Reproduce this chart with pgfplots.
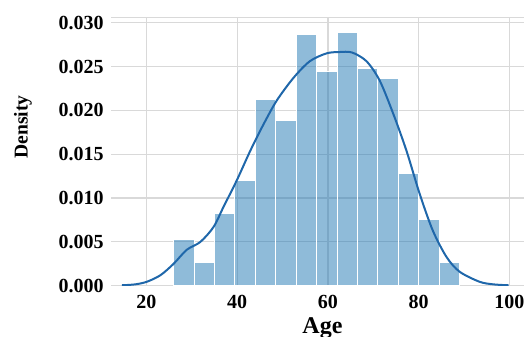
\documentclass[border=0pt]{standalone}
\usepackage{pgfplots}
\pgfplotsset{compat=1.18}
\usepackage{fontspec}
\setmainfont{Liberation Serif}
\definecolor{barblue}{HTML}{1F77B4}
\definecolor{kdeblue}{HTML}{1F67AA}
\definecolor{gridgray}{HTML}{D9D9D9}
\begin{document}
\begin{tikzpicture}
\begin{axis}[
  scale only axis,
  width=206.5pt, height=134.1pt,
  xmin=12.2, xmax=103.2,
  ymin=0, ymax=0.03059,
  xtick={20,40,60,80,100},
  ytick={0,0.005,0.010,0.015,0.020,0.025,0.030},
  scaled y ticks=false,
  major tick length=0pt,
  /pgf/number format/assume math mode=true,
  yticklabel style={/pgf/number format/fixed, /pgf/number format/fixed zerofill, /pgf/number format/precision=3, anchor=east, inner sep=0pt, xshift=-3.5pt},
  ticklabel style={font=\fontsize{10}{12}\selectfont\bfseries},
  xticklabel style={anchor=north, inner sep=0pt, yshift=-4.5pt},
  grid=major,
  major grid style={gridgray, line width=0.6pt},
  separate axis lines,
  x axis line style={draw=gridgray, line width=0.6pt},
  y axis line style={draw=none},
  axis on top=false,
  xlabel={Age},
  ylabel={Density},
  xlabel style={font=\fontsize{12}{14}\selectfont\bfseries, at={(axis description cs:0.512,0)}, anchor=north, inner sep=0pt, yshift=-15.7pt},
  ylabel style={font=\fontsize{9.8}{12}\selectfont\bfseries, at={(axis description cs:-0.213,0.592)}, anchor=center},
]
\addplot[ybar interval, fill=barblue, fill opacity=0.5, draw=white, line width=0.5pt] coordinates {
(26.0,0.00527) (30.5,0.00261) (35.0,0.00818) (39.5,0.01197) (44.0,0.02129)
(48.5,0.01879) (53.0,0.02860) (57.5,0.02440) (62.0,0.02886) (66.5,0.02480)
(71.0,0.02368) (75.5,0.01280) (80.0,0.00750) (84.5,0.00260) (89.0,0.00260)
};
\addplot[kdeblue, line width=1pt, smooth, tension=0.5] coordinates {
(14.6,0.00005) (17.5,0.00015) (20.1,0.00045) (23.1,0.0012) (26.0,0.0025)
(28.9,0.0041) (31.9,0.0050) (34.8,0.0067) (37.0,0.0090) (39.9,0.0120)
(42.9,0.0154) (45.8,0.0184) (48.7,0.0211) (52.4,0.0237) (56.0,0.0256)
(59.7,0.0265) (62.5,0.02665) (65.3,0.0266) (68.5,0.0256) (71.4,0.0234)
(74.4,0.0196) (77.3,0.0154) (80.2,0.0105) (83.1,0.0063) (86.1,0.0033)
(89.0,0.0016) (93.4,0.00045) (96.5,0.00015) (99.8,0.00005)
};
\end{axis}
\pgfresetboundingbox
\path[use as bounding box] (current axis.south west) ++(-55.5pt,-25.15pt) rectangle ++(264pt,168pt);
\end{tikzpicture}
\end{document}
